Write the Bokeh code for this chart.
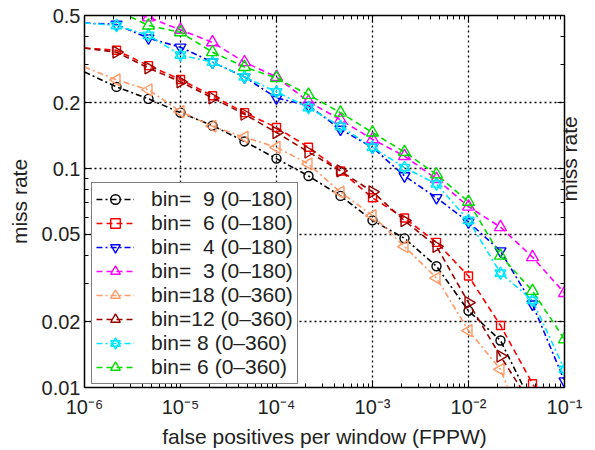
import numpy as np
from bokeh.plotting import figure
from bokeh.models import (LogAxis, FixedTicker, Legend, LegendItem,
                          CustomJSTickFormatter)
from bokeh.embed import file_html
from bokeh.resources import INLINE

# ---------------- data ----------------
fppw = [1e-6, 2.154e-6, 4.642e-6, 1e-5, 2.154e-5, 4.642e-5, 1e-4, 2.154e-4,
        4.642e-4, 1e-3, 2.154e-3, 4.642e-3, 1e-2, 2.154e-2, 4.642e-2, 1e-1]

miss_bin9_180 = [0.276, 0.236, 0.208, 0.180, 0.157, 0.133, 0.111, 0.0925,
                 0.075, 0.058, 0.048, 0.0358, 0.0224, 0.0164, 0.0083, 0.005]
miss_bin6_180 = [0.355, 0.347, 0.295, 0.255, 0.215, 0.180, 0.154, 0.125,
                 0.0975, 0.0735, 0.0594, 0.046, 0.0323, 0.0192, 0.0104, 0.0062]
miss_bin4_180 = [0.462, 0.455, 0.394, 0.358, 0.306, 0.262, 0.210, 0.194,
                 0.151, 0.125, 0.0925, 0.0735, 0.057, 0.042, 0.024, 0.0107]
miss_bin3_180 = [0.62, 0.54, 0.49, 0.43, 0.377, 0.306, 0.262, 0.202,
                 0.167, 0.136, 0.114, 0.0896, 0.067, 0.054, 0.0394, 0.027]
miss_bin18_360 = [0.291, 0.254, 0.229, 0.182, 0.156, 0.139, 0.125, 0.105,
                  0.078, 0.061, 0.044, 0.0316, 0.0182, 0.0121, 0.0052, 0.003]
miss_bin12_360 = [0.355, 0.340, 0.288, 0.249, 0.210, 0.177, 0.146, 0.119,
                  0.0975, 0.0783, 0.0578, 0.0441, 0.0244, 0.0139, 0.0082, 0.005]
miss_bin8_360 = [0.462, 0.450, 0.406, 0.330, 0.306, 0.262, 0.224, 0.190,
                 0.156, 0.125, 0.101, 0.085, 0.058, 0.0333, 0.025, 0.0121]
miss_bin6_360 = [0.60, 0.53, 0.45, 0.419, 0.340, 0.291, 0.259, 0.217,
                 0.180, 0.146, 0.119, 0.094, 0.0705, 0.040, 0.0276, 0.0166]

labels = ["bin=\u20079 (0\u2013180)", "bin=\u20076 (0\u2013180)",
          "bin=\u20074 (0\u2013180)", "bin=\u20073 (0\u2013180)",
          "bin=18 (0\u2013360)", "bin=12 (0\u2013360)",
          "bin= 8 (0\u2013360)", "bin= 6 (0\u2013360)"]

x_ticks = [1e-6, 1e-5, 1e-4, 1e-3, 1e-2, 1e-1]
y_ticks = [0.01, 0.02, 0.05, 0.1, 0.2, 0.5]
y_tick_text = ["0.01", "0.02", "0.05", "0.1", "0.2", "0.5"]

# ---------------- styles ----------------
series = [
    (miss_bin9_180, "black", "6 3 2 3", "circle", 9, 0),
    (miss_bin6_180, "#ff0000", "6 4", "square", 8, 0),
    (miss_bin4_180, "#0000ff", "6 3 2 3", "inverted_triangle", 11, 0),
    (miss_bin3_180, "#ff00ff", "6 4", "triangle", 12, 0),
    (miss_bin18_360, "#ff9966", "6 3 2 3", "triangle", 12, np.pi / 2),
    (miss_bin12_360, "#990000", "6 4", "triangle", 12, -np.pi / 2),
    (miss_bin8_360, "#00e5ff", "6 3 2 3", "star6", 11, 0),
    (miss_bin6_360, "#00dd00", "6 4", "triangle", 12, 0),
]

FONT = "Liberation Sans"

p = figure(width=595, height=450, x_axis_type="log", y_axis_type="log",
           x_range=(1e-6, 1e-1), y_range=(0.01, 0.5),
           output_backend="svg", toolbar_location=None,
           min_border_left=84, min_border_right=31,
           min_border_top=15, min_border_bottom=59)
p.background_fill_color = "white"
p.border_fill_color = "white"
p.outline_line_color = "black"
p.outline_line_width = 1.5

x_minor = [m * 10.0 ** e for e in range(-6, -1) for m in range(2, 10)]
y_minor = [0.03, 0.04, 0.06, 0.07, 0.08, 0.09, 0.3, 0.4]
xt = FixedTicker(ticks=x_ticks, minor_ticks=x_minor)
yt = FixedTicker(ticks=y_ticks, minor_ticks=y_minor)

xfmt = CustomJSTickFormatter(code="""
const sup = {'-':'\u207b','0':'\u2070','1':'\u00b9','2':'\u00b2','3':'\u00b3',
 '4':'\u2074','5':'\u2075','6':'\u2076','7':'\u2077','8':'\u2078','9':'\u2079'};
const e = Math.round(Math.log10(tick)).toString();
let s = '';
for (const c of e) s += sup[c];
return '10' + s;
""")
yfmt = CustomJSTickFormatter(args=dict(t=y_ticks, s=y_tick_text), code="""
for (let i = 0; i < t.length; i++) { if (Math.abs(t[i]-tick) < 1e-9) return s[i]; }
return '';
""")

def style_axis(ax, ticker):
    ax.ticker = ticker
    ax.major_tick_in = 7
    ax.major_tick_out = 0
    ax.minor_tick_in = 4
    ax.minor_tick_out = 0
    ax.axis_line_color = "black"
    ax.major_tick_line_color = "black"
    ax.minor_tick_line_color = "black"
    ax.major_label_text_font = FONT
    ax.major_label_text_font_size = "20px"
    ax.major_label_text_color = "#222222"
    ax.axis_label_text_font = FONT
    ax.axis_label_text_font_size = "21px"
    ax.axis_label_text_font_style = "normal"
    ax.axis_label_text_color = "#222222"

xa = p.xaxis[0]
style_axis(xa, xt)
xa.formatter = xfmt
xa.axis_label = "false positives per window (FPPW)"
xa.major_label_standoff = 8
xa.axis_label_standoff = 4

ya = p.yaxis[0]
style_axis(ya, yt)
ya.formatter = yfmt
ya.axis_label = "miss rate"
ya.major_label_standoff = 4
ya.axis_label_standoff = 8

top = LogAxis()
style_axis(top, FixedTicker(ticks=x_ticks, minor_ticks=x_minor))
top.major_label_text_font_size = "1px"
top.major_label_text_color = None
top.major_label_standoff = 0
p.add_layout(top, "above")

# right-hand ticks (inside the frame)
right = LogAxis()
style_axis(right, FixedTicker(ticks=y_ticks, minor_ticks=y_minor))
right.major_label_text_font_size = "1px"
right.major_label_text_color = None
right.major_label_standoff = 0
p.add_layout(right, "right")

# right-hand "miss rate" title: a tick-less axis whose bounds put the
# start of the upward-reading label where the reference has it
right_lab = LogAxis(bounds=(0.01, 0.2))
style_axis(right_lab, FixedTicker(ticks=[], minor_ticks=[]))
right_lab.axis_line_color = None
right_lab.major_tick_line_color = None
right_lab.minor_tick_line_color = None
right_lab.major_label_text_font_size = "1px"
right_lab.major_label_text_color = None
right_lab.major_label_standoff = 0
right_lab.axis_label = "miss rate"
right_lab.axis_label_standoff = 5
right_lab.axis_label_orientation = np.pi / 2
p.add_layout(right_lab, "right")

p.xgrid.ticker = FixedTicker(ticks=x_ticks)
p.ygrid.ticker = FixedTicker(ticks=y_ticks)
for g in (p.xgrid[0], p.ygrid[0]):
    g.grid_line_color = "black"
    g.grid_line_dash = "2 3"
    g.grid_line_width = 1.3
    g.grid_line_alpha = 1.0

items = []
for (vals, color, dash, marker, size, ang), lab in zip(series, labels):
    rl = p.line(fppw, vals, line_color=color, line_width=1.6, line_dash=dash)
    mx = fppw[1:]
    my = vals[1:]
    rends = [rl]
    if marker == "star6":
        for mk in ("triangle", "inverted_triangle"):
            rends.append(p.scatter(mx, my, marker=mk, size=size,
                                   line_color=color, line_width=1.4,
                                   fill_alpha=0))
    else:
        rends.append(p.scatter(mx, my, marker=marker, size=size, angle=ang,
                               line_color=color, line_width=1.4,
                               fill_alpha=0))
    items.append(LegendItem(label=lab, renderers=rends))

legend = Legend(items=items, location=(7, 3), margin=0,
                border_line_color="black", border_line_width=1.5,
                background_fill_color="white", background_fill_alpha=1,
                label_text_font=FONT, label_text_font_size="21px",
                label_text_color="#222222",
                glyph_width=38, glyph_height=24, label_height=24,
                spacing=0, padding=4, label_standoff=17)
p.add_layout(legend)

open("out.html", "w").write(file_html(p, INLINE))
